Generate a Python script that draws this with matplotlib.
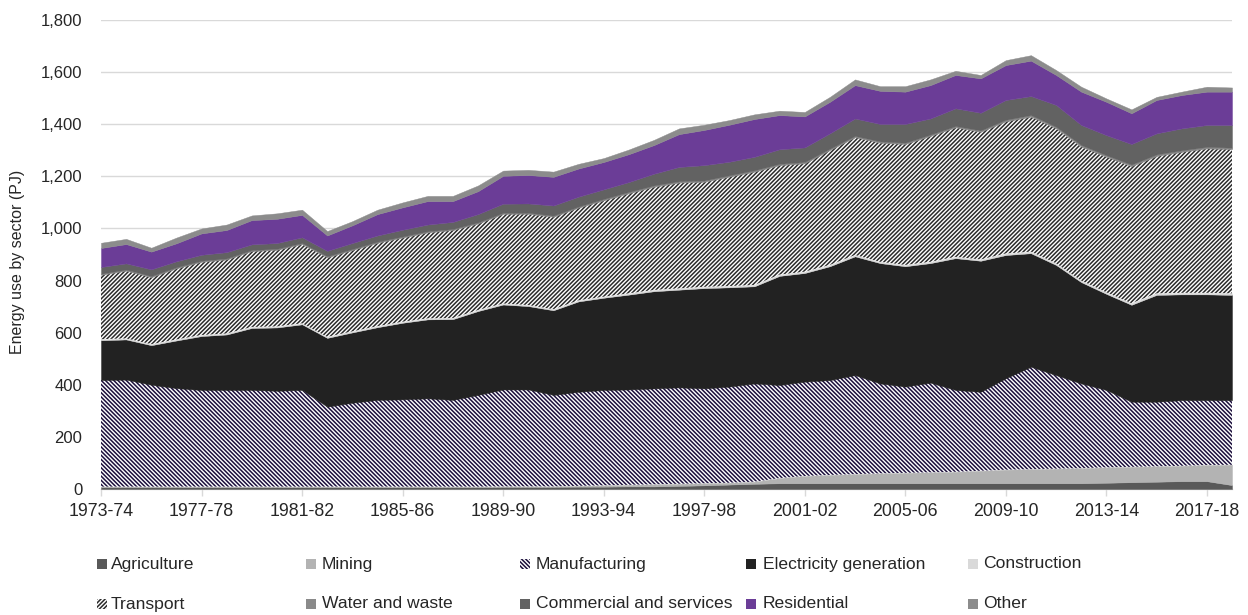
import numpy as np
import matplotlib
matplotlib.use("Agg")
import matplotlib.pyplot as plt
from matplotlib.patches import Rectangle

years = ["1973-74", "1974-75", "1975-76", "1976-77", "1977-78", "1978-79", "1979-80", "1980-81",
         "1981-82", "1982-83", "1983-84", "1984-85", "1985-86", "1986-87", "1987-88", "1988-89",
         "1989-90", "1990-91", "1991-92", "1992-93", "1993-94", "1994-95", "1995-96", "1996-97",
         "1997-98", "1998-99", "1999-00", "2000-01", "2001-02", "2002-03", "2003-04", "2004-05",
         "2005-06", "2006-07", "2007-08", "2008-09", "2009-10", "2010-11", "2011-12", "2012-13",
         "2013-14", "2014-15", "2015-16", "2016-17", "2017-18", "2018-19"]

agriculture = [7, 7, 7, 7, 7, 7, 7, 7, 7, 7, 7, 7, 7, 7, 7, 7, 8, 8, 8, 9,
               9, 10, 10, 12, 14, 17, 20, 22, 22, 22, 22, 22, 22, 22, 22, 22, 22, 22, 22, 22,
               24, 26, 28, 30, 30, 15]
mining = [2, 2, 2, 2, 2, 2, 2, 2, 2, 2, 2, 2, 2, 2, 2, 2, 2, 2, 2, 3,
          5, 6, 8, 8, 8, 7, 8, 20, 28, 32, 35, 38, 40, 42, 44, 48, 52, 54, 56, 58,
          59, 59, 59, 59, 62, 78]
manufacturing = [409, 411, 391, 378, 371, 371, 371, 368, 371, 307, 322, 333, 335, 339, 333, 352,
                 372, 372, 351, 361, 366, 366, 368, 370, 364, 369, 377, 357, 362, 364, 380, 345,
                 331, 344, 314, 303, 351, 393, 359, 325, 297, 250, 248, 252, 249, 248]
electricity = [153, 154, 152, 183, 207, 213, 238, 243, 252, 264, 270, 279, 294, 303, 310, 322,
               326, 320, 325, 347, 354, 364, 373, 375, 385, 381, 373, 419, 417, 437, 456, 462,
               462, 459, 506, 503, 473, 436, 423, 389, 369, 372, 410, 406, 406, 404]
construction = [4, 4, 4, 4, 4, 4, 4, 4, 4, 4, 4, 4, 4, 4, 4, 4, 4, 4, 4, 4, 4,
                5, 5, 5, 5, 5, 5, 5, 5, 5, 5, 5, 5, 5, 5, 5,
                6, 6, 6, 6, 6, 6, 6, 6, 6, 6]
transport = [247, 260, 257, 273, 281, 284, 291, 294, 304, 305, 312, 320, 323, 330, 338, 332,
             344, 350, 355, 356, 370, 384, 396, 406, 403, 420, 435, 420, 416, 441, 452, 457,
             464, 483, 497, 490, 507, 518, 518, 514, 520, 526, 527, 541, 554, 553]
water_waste = [4, 4, 4, 4, 4, 4, 4, 4, 4, 4, 4, 4, 4, 4, 4, 4, 4, 4, 4, 4,
               5, 5, 5, 5, 5, 5, 5, 5, 5, 5, 5, 5, 5, 5, 5, 5,
               6, 6, 6, 6, 6, 6, 6, 6, 6, 6]
commercial = [26, 24, 26, 23, 23, 24, 22, 22, 22, 21, 23, 24, 26, 26, 27, 32, 35, 36, 39, 38,
              37, 38, 45, 55, 59, 52, 52, 56, 56, 59, 67, 67, 72, 62, 68, 68, 76, 73, 84, 77,
              77, 79, 81, 84, 84, 87]
residential = [73, 74, 68, 69, 82, 85, 93, 93, 86, 59, 68, 82, 86, 90, 80, 88, 107, 109, 110, 108,
               105, 107, 110, 126, 135, 142, 145, 131, 119, 121, 128, 127, 124, 128, 128, 132,
               134, 136, 115, 128, 128, 118, 128, 128, 128, 128]
other = [20, 20, 15, 22, 19, 21, 18, 21, 20, 17, 16, 17, 19, 20, 20, 22, 20, 20, 20, 18,
         15, 18, 20, 22, 20, 18, 18, 17, 17, 19, 22, 18, 21, 22, 16, 13, 19, 21, 19, 19,
         13, 15, 12, 13, 19, 16]

sector_names = ["Agriculture", "Mining", "Manufacturing", "Electricity generation", "Construction",
                "Transport", "Water and waste", "Commercial and services", "Residential", "Other"]
series = [agriculture, mining, manufacturing, electricity, construction,
          transport, water_waste, commercial, residential, other]
# style: (face colour, hatch, hatch colour)
styles = [("#595959", None, None),
          ("#b3b3b3", None, None),
          ("white", "\\" * 8, "#1c0f3c"),
          ("#222222", None, None),
          ("#d9d9d9", None, None),
          ("white", "/" * 8, "#2b2b2b"),
          ("#8a8a8a", None, None),
          ("#626262", None, None),
          ("#6b3d97", None, None),
          ("#8c8c8c", None, None)]

plt.rcParams["font.family"] = ["Liberation Sans", "DejaVu Sans"]
plt.rcParams["hatch.linewidth"] = 1.1

W, H = 1248, 615
fig = plt.figure(figsize=(W / 100, H / 100), dpi=100)
ax = fig.add_axes([101 / W, 1 - 489 / H, (1232 - 101) / W, (489 - 20) / H])

x = np.arange(len(years))
base = np.zeros(len(years))
for vals, (fc, hatch, hc) in zip(series, styles):
    top = base + np.asarray(vals, dtype=float)
    if hatch:
        ax.fill_between(x, base, top, facecolor="white", edgecolor=hc, hatch=hatch,
                        linewidth=0, zorder=2)
    else:
        ax.fill_between(x, base, top, facecolor=fc, edgecolor=fc, linewidth=0.3, zorder=2)
    base = top

ax.set_xlim(0, len(years) - 1)
ax.set_ylim(0, 1800)
ax.set_yticks(np.arange(0, 1801, 200))
ax.set_yticklabels([f"{v:,}" for v in range(0, 1801, 200)])
ax.yaxis.grid(True, color="#d9d9d9", linewidth=1.0, zorder=0)
ax.set_axisbelow(True)
tick_idx = list(range(0, len(years), 4))
ax.set_xticks(tick_idx)
ax.set_xticklabels([years[i] for i in tick_idx])
for s in ["left", "right", "top"]:
    ax.spines[s].set_visible(False)
ax.spines["bottom"].set_color("#d9d9d9")
ax.spines["bottom"].set_linewidth(1.0)
ax.spines["bottom"].set_zorder(1)
ax.tick_params(axis="y", length=0, pad=13.5, labelsize=12, labelcolor="#262626")
ax.tick_params(axis="x", length=5, width=1, color="#d9d9d9", pad=5, labelsize=12.8,
               labelcolor="#262626")

fig.text(18 / W, 1 - 262 / H, "Energy use by sector (PJ)", rotation=90, va="center",
         ha="center", fontsize=11.5, color="#262626")

# legend, drawn by hand
col_marker = [97, 306, 520, 746, 968]
col_text = [111, 322, 536, 763, 983]
row_y = [564, 604]
for k, name in enumerate(sector_names):
    r, c = divmod(k, 5)
    fc, hatch, hc = styles[k]
    yc = row_y[r]
    if hatch:
        rect = Rectangle((col_marker[c] / W, 1 - (yc + 5) / H), 10 / W, 10 / H,
                         transform=fig.transFigure, facecolor="white", edgecolor=hc,
                         hatch=hatch, linewidth=0)
    else:
        rect = Rectangle((col_marker[c] / W, 1 - (yc + 5) / H), 10 / W, 10 / H,
                         transform=fig.transFigure, facecolor=fc, edgecolor="none")
    fig.patches.append(rect)
    fig.text(col_text[c] / W, 1 - yc / H, name, va="center", ha="left", fontsize=12.6,
             color="#262626")

fig.savefig("out.png", dpi=100)
